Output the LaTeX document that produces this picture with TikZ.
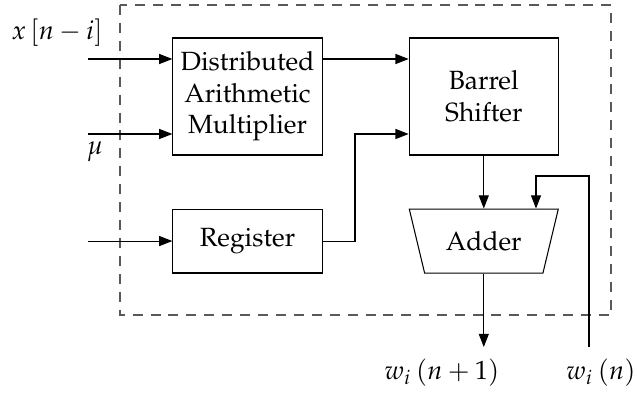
\documentclass[tikz,border=0pt]{standalone}
\usepackage[T1]{fontenc}
\usepackage{mathpazo}
\usetikzlibrary{positioning,arrows.meta,shapes.geometric}

\begin{document}
\begin{tikzpicture}[x=0.01333cm, y=-0.01333cm,
    box/.style={draw, minimum width=1.99cm, align=center, inner sep=2pt},
    sig/.style={-{Triangle[length=5pt,width=3.8pt]}},
    frame/.style={draw=black!65, dash pattern=on 3.8pt off 3pt}]
  \useasboundingbox (0,0) rectangle (637,394);
  \draw[frame] (120,5) rectangle (611,315);

  \node[box, minimum height=1.56cm] (dam) at (247.5,96.5) {Distributed\\Arithmetic\\Multiplier};
  \node[box, minimum height=1.56cm, right=1.147cm of dam] (shift) {Barrel\\Shifter};
  \node[box, minimum height=0.853cm, below=0.707cm of dam] (reg) {Register};
  \node[draw, trapezium, shape border rotate=180, trapezium stretches=true,
        trapezium angle=72, minimum width=1.99cm, minimum height=0.853cm,
        below=0.707cm of shift] (add) {Adder};

  % inputs and outputs
  \coordinate (xin) at (88,59);
  \coordinate (muin) at (88,134);
  \coordinate (regin) at (88,240);
  \coordinate (bend) at (355,134);
  \coordinate (wold) at (589,347);
  \coordinate (fbin) at (536,176);
  \coordinate (wnew) at (483,347);

  \draw[sig] (xin) -- (xin -| dam.west);
  \draw[sig] (muin) -- (muin -| dam.west);
  \draw[sig] (regin |- reg.west) -- (reg.west);
  \draw[sig] (dam.east |- xin) -- (shift.west |- xin);
  \draw[sig] (reg.east) -| (bend) -- (shift.west |- bend);
  \draw[sig] (shift.south) -- (add.north);
  \draw[sig] (wold) |- (fbin) -- (fbin |- add.north);
  \draw[sig] (add.south) -- (add.south |- wnew);

  \node (lx) at (57,33) {$x\left[n-i\right]$};
  \node (lmu) at (95,152) {$\mu$};
  \node (lwnew) at (442,373) {$w_i\left(n+1\right)$};
  \node (lwold) at (601,373) {$w_i\left(n\right)$};
\end{tikzpicture}
\end{document}
